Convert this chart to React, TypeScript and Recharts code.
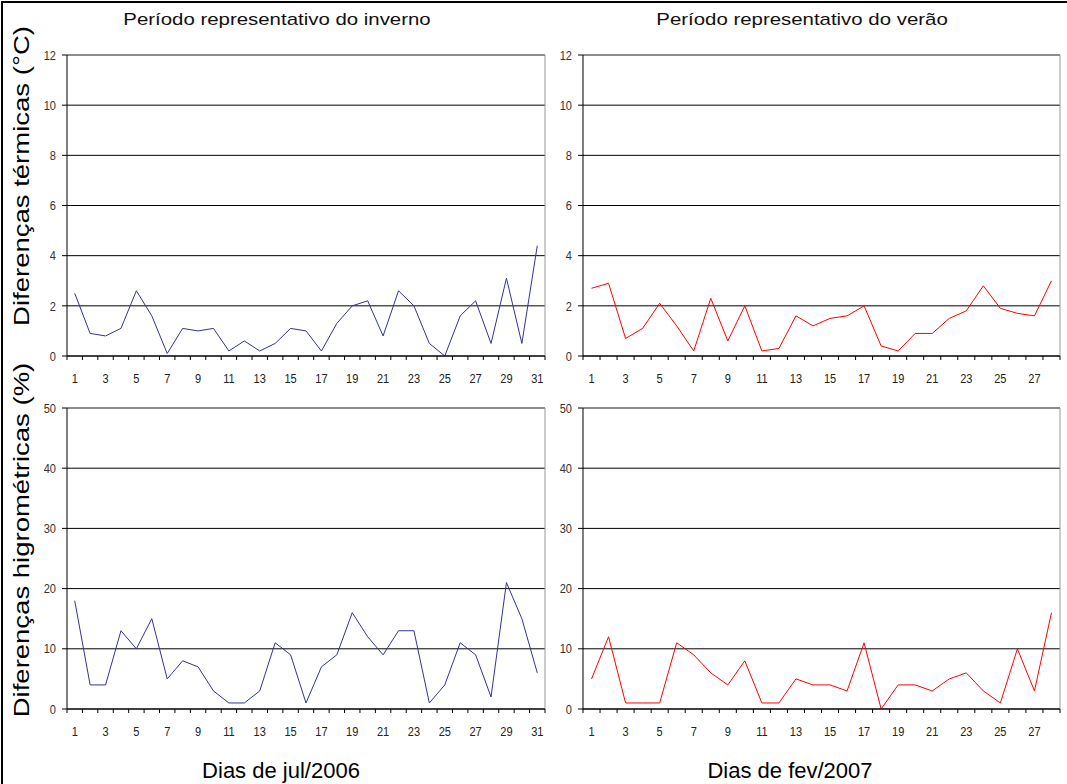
import type { CSSProperties } from 'react'
import { CartesianGrid, Line, LineChart, ReferenceLine, XAxis, YAxis } from 'recharts'

const FONT = '"Liberation Sans", Arial, sans-serif'
const NAVY = '#333399'
const RED = '#ff0000'

// dias
const JUL_DAYS = [1, 2, 3, 4, 5, 6, 7, 8, 9, 10, 11, 12, 13, 14, 15, 16, 17, 18, 19, 20, 21, 22, 23, 24, 25, 26, 27, 28, 29, 30, 31]
const FEV_DAYS = [1, 2, 3, 4, 5, 6, 7, 8, 9, 10, 11, 12, 13, 14, 15, 16, 17, 18, 19, 20, 21, 22, 23, 24, 25, 26, 27, 28]
const JUL_LABELS = [1, 3, 5, 7, 9, 11, 13, 15, 17, 19, 21, 23, 25, 27, 29, 31]
const FEV_LABELS = [1, 3, 5, 7, 9, 11, 13, 15, 17, 19, 21, 23, 25, 27]

// diferenças térmicas (°C)
const TEMP_JUL = [2.5, 0.9, 0.8, 1.1, 2.6, 1.6, 0.1, 1.1, 1.0, 1.1, 0.2, 0.6, 0.2, 0.5, 1.1, 1.0, 0.2, 1.3, 2.0, 2.2, 0.8, 2.6, 2.0, 0.5, 0.0, 1.6, 2.2, 0.5, 3.1, 0.5, 4.4]
const TEMP_FEV = [2.7, 2.9, 0.7, 1.1, 2.1, 1.2, 0.2, 2.3, 0.6, 2.0, 0.2, 0.3, 1.6, 1.2, 1.5, 1.6, 2.0, 0.4, 0.2, 0.9, 0.9, 1.5, 1.8, 2.8, 1.9, 1.7, 1.6, 3.0]

// diferenças higrométricas (%)
const HUM_JUL = [18, 4, 4, 13, 10, 15, 5, 8, 7, 3, 1, 1, 3, 11, 9, 1, 7, 9, 16, 12, 9, 13, 13, 1, 4, 11, 9, 2, 21, 15, 6]
const HUM_FEV = [5, 12, 1, 1, 1, 11, 9, 6, 4, 8, 1, 1, 5, 4, 4, 3, 11, 0, 4, 4, 3, 5, 6, 3, 1, 10, 3, 16]

const TEMP_TICKS = [0, 2, 4, 6, 8, 10, 12]
const HUM_TICKS = [0, 10, 20, 30, 40, 50]

type TickProps = { x?: number; y?: number; payload?: { value: number } }

function YTick({ x = 0, y = 0, payload }: TickProps) {
  if (!payload) return null
  return (
    <text transform={`translate(${x},${y}) scale(0.85,1)`} textAnchor="end" dy="0.36em" fontSize={13} fontFamily={FONT} fill="#333">
      {payload.value}
    </text>
  )
}

// marcas nas fronteiras (x.5) e rótulos nos dias ímpares
function DayTick({ x = 0, y = 0, payload, labels = [] }: TickProps & { labels?: number[] }) {
  if (!payload) return null
  const v = payload.value
  if (!Number.isInteger(v)) return <line x1={x} y1={y} x2={x} y2={y + 4} stroke="#000" />
  if (!labels.includes(v)) return <g />
  return (
    <text transform={`translate(${x},${y + 22}) scale(0.85,1)`} textAnchor="middle" dy="0.36em" fontSize={13} fontFamily={FONT} fill="#222">
      {v}
    </text>
  )
}

function Panel(props: {
  left: number; top: number; w: number; h: number
  days: number[]; values: number[]; labels: number[]; yTicks: number[]; color: string
}) {
  const { left, top, w, h, days, values, labels, yTicks, color } = props
  const rows = days.map((d, i) => ({ day: d, v: values[i] }))
  const lo = days[0] - 0.5
  const hi = days[days.length - 1] + 0.5
  const xTicks = [...days.map((d) => d - 0.5), hi, ...labels].sort((a, b) => a - b)
  const yMax = yTicks[yTicks.length - 1]
  return (
    <div style={{ position: 'absolute', left: left - 40, top: top - 10 }}>
      <LineChart width={w + 50} height={h + 40} data={rows} margin={{ top: 10, right: 10, bottom: 0, left: 10 }}>
        <CartesianGrid vertical={false} stroke="#000" />
        <XAxis
          dataKey="day"
          type="number"
          domain={[lo, hi]}
          ticks={xTicks}
          interval={0}
          height={30}
          tickLine={false}
          tickSize={0}
          tickMargin={0}
          axisLine={{ stroke: '#000' }}
          tick={<DayTick labels={labels} />}
        />
        <YAxis
          type="number"
          domain={[0, yMax]}
          ticks={yTicks}
          interval={0}
          width={30}
          tickSize={5}
          tickMargin={6}
          tickLine={{ stroke: '#000' }}
          axisLine={{ stroke: '#000' }}
          tick={<YTick />}
        />
        <ReferenceLine y={yMax} stroke="#999" />
        <ReferenceLine x={hi} stroke="#999" />
        <Line type="linear" dataKey="v" stroke={color} strokeWidth={1} dot={false} activeDot={false} isAnimationActive={false} />
      </LineChart>
    </div>
  )
}

function Label({ text, cx, cy, size, extra = '', style }: { text: string; cx: number; cy: number; size: number; extra?: string; style?: CSSProperties }) {
  return (
    <div
      style={{
        position: 'absolute', left: cx, top: cy, transform: `translate(-50%,-50%) ${extra}`,
        whiteSpace: 'nowrap', fontFamily: FONT, fontSize: size, lineHeight: 1, color: '#000', ...style,
      }}
    >
      {text}
    </div>
  )
}

export default function App() {
  return (
    <div style={{ position: 'absolute', left: 0, top: 0, width: 1067, height: 784, background: '#fff', overflow: 'hidden' }}>
      <div style={{ position: 'absolute', left: 1, top: 1, right: 0, bottom: 0, borderLeft: '2px solid #000', borderTop: '2px solid #000' }} />

      <Label text="Período representativo do inverno" cx={277} cy={19} size={17} extra="scale(1.2,1)" style={{ color: '#111' }} />
      <Label text="Período representativo do verão" cx={802} cy={19} size={17} extra="scale(1.2,1)" style={{ color: '#111' }} />

      <Label text="Diferenças térmicas (°C)" cx={22} cy={176} size={22} extra="rotate(-90deg) scale(1.25,1)" />
      <Label text="Diferenças higrométricas (%)" cx={22} cy={540} size={22} extra="rotate(-90deg) scale(1.25,1)" />

      <Label text="Dias de jul/2006" cx={281} cy={771} size={22} />
      <Label text="Dias de fev/2007" cx={790} cy={771} size={22} />

      <Panel left={67} top={55} w={478} h={301} days={JUL_DAYS} values={TEMP_JUL} labels={JUL_LABELS} yTicks={TEMP_TICKS} color={NAVY} />
      <Panel left={583} top={55} w={477} h={301} days={FEV_DAYS} values={TEMP_FEV} labels={FEV_LABELS} yTicks={TEMP_TICKS} color={RED} />
      <Panel left={67} top={408} w={478} h={301} days={JUL_DAYS} values={HUM_JUL} labels={JUL_LABELS} yTicks={HUM_TICKS} color={NAVY} />
      <Panel left={583} top={408} w={477} h={301} days={FEV_DAYS} values={HUM_FEV} labels={FEV_LABELS} yTicks={HUM_TICKS} color={RED} />
    </div>
  )
}
